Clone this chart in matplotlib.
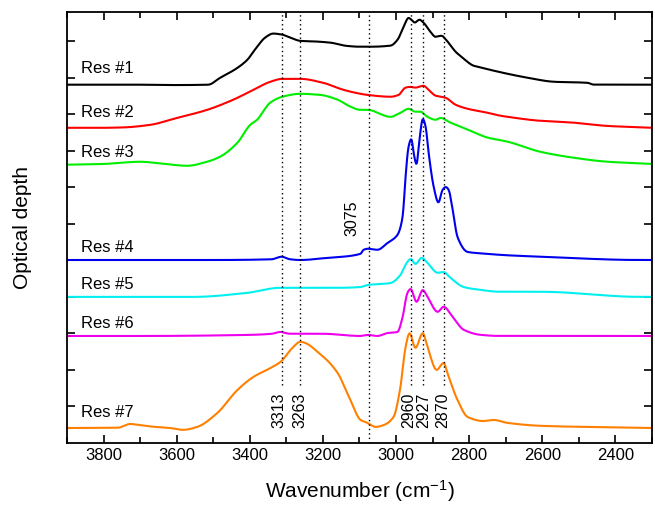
import numpy as np
import matplotlib
matplotlib.use('Agg')
import matplotlib.pyplot as plt
from matplotlib.ticker import MultipleLocator

plt.rcParams['font.family'] = ['Liberation Sans', 'DejaVu Sans']
plt.rcParams['mathtext.default'] = 'regular'

# spectra: wavenumber (cm-1) and offset optical depth (arb.)
wn1 = [3900, 3700, 3600, 3514, 3481, 3434, 3407, 3380, 3358, 3336, 3311, 3289, 3262, 3215, 3179,
       3133, 3100, 3070, 3015, 2996, 2979, 2966, 2958, 2949, 2936, 2925, 2906, 2892, 2876, 2859,
       2837, 2815, 2788, 2768, 2714, 2640, 2568, 2475, 2459, 2385, 2300]
od1 = [9.81, 9.81, 9.80, 9.81, 10.0, 10.27, 10.49, 10.85, 11.10, 11.21, 11.18, 11.10, 11.01, 10.99, 10.96,
       10.87, 10.85, 10.85, 10.88, 11.04, 11.40, 11.64, 11.59, 11.51, 11.59, 11.51, 11.26, 11.12, 11.15, 10.99,
       10.71, 10.52, 10.33, 10.28, 10.15, 10.0, 9.89, 9.86, 9.81, 9.81, 9.81]

wn2 = [3900, 3800, 3747, 3673, 3599, 3517, 3445, 3390, 3344, 3311, 3262, 3199, 3144, 3097, 3078,
       3015, 2993, 2974, 2960, 2947, 2925, 2911, 2892, 2864, 2837, 2804, 2749, 2714, 2695, 2604,
       2514, 2421, 2300]
od2 = [8.63, 8.63, 8.64, 8.71, 8.90, 9.12, 9.40, 9.67, 9.89, 9.97, 9.97, 9.86, 9.67, 9.56, 9.53,
       9.48, 9.53, 9.73, 9.75, 9.73, 9.78, 9.67, 9.51, 9.45, 9.26, 9.15, 9.04, 8.96, 8.93, 8.82,
       8.77, 8.68, 8.63]

wn3 = [3900, 3800, 3700, 3640, 3571, 3517, 3481, 3434, 3399, 3380, 3344, 3311, 3262, 3207, 3160,
       3125, 3097, 3078, 3015, 2988, 2966, 2947, 2933, 2914, 2892, 2878, 2851, 2804, 2749, 2695,
       2604, 2514, 2421, 2300]
od3 = [7.62, 7.64, 7.70, 7.65, 7.59, 7.70, 7.84, 8.22, 8.71, 8.85, 9.32, 9.48, 9.56, 9.53, 9.40,
       9.21, 9.12, 9.12, 8.93, 9.04, 9.15, 9.07, 9.07, 8.93, 8.85, 8.90, 8.77, 8.58, 8.36, 8.25,
       7.97, 7.81, 7.70, 7.64]

wn4 = [3900, 3700, 3500, 3340, 3313, 3290, 3262, 3188, 3097, 3089, 3075, 3051, 3023, 2996, 2982,
       2974, 2966, 2958, 2952, 2944, 2936, 2927, 2919, 2911, 2897, 2884, 2873, 2864, 2856, 2845,
       2832, 2804, 2749, 2714, 2604, 2330, 2300]
od4 = [5.01, 5.01, 5.01, 5.03, 5.10, 5.03, 5.01, 5.07, 5.18, 5.29, 5.32, 5.29, 5.48, 5.70, 6.19,
       7.29, 8.11, 8.33, 7.95, 7.62, 8.30, 8.88, 8.66, 7.95, 7.01, 6.58, 6.93, 7.01, 6.93, 6.38,
       5.64, 5.23, 5.18, 5.15, 5.10, 5.01, 5.01]

wn5 = [3900, 3700, 3555, 3407, 3316, 3262, 3152, 3097, 3075, 3015, 2988, 2969, 2960, 2947, 2930,
       2914, 2886, 2870, 2851, 2815, 2768, 2714, 2604, 2330, 2300]
od5 = [4.00, 4.00, 4.00, 4.11, 4.25, 4.25, 4.25, 4.27, 4.33, 4.38, 4.60, 4.96, 5.04, 4.90, 5.07,
       4.93, 4.66, 4.68, 4.52, 4.27, 4.19, 4.14, 4.14, 4.00, 4.00]

wn6 = [3900, 3700, 3400, 3340, 3316, 3290, 3262, 3200, 3097, 3075, 3051, 3023, 2996, 2982, 2969,
       2960, 2944, 2927, 2914, 2886, 2870, 2845, 2815, 2768, 2714, 2300]
od6 = [2.93, 2.93, 2.96, 2.99, 3.04, 2.99, 2.99, 2.99, 2.93, 2.96, 2.93, 3.01, 3.04, 3.45, 4.11,
       4.22, 3.86, 4.19, 4.00, 3.59, 3.73, 3.45, 3.10, 2.96, 2.93, 2.93]

wn7 = [3900, 3760, 3727, 3700, 3660, 3618, 3582, 3544, 3489, 3434, 3390, 3344, 3316, 3281, 3262,
       3199, 3160, 3125, 3097, 3078, 3056, 3034, 3007, 2988, 2974, 2963, 2947, 2927, 2914,
       2889, 2870, 2856, 2832, 2804, 2760, 2733, 2695, 2604, 2300]
od7 = [0.41, 0.42, 0.52, 0.49, 0.44, 0.41, 0.36, 0.44, 0.82, 1.45, 1.81, 2.05, 2.22, 2.63, 2.77,
       2.36, 1.92, 1.18, 0.63, 0.55, 0.44, 0.49, 0.71, 1.53, 2.63, 3.01, 2.60, 3.01, 2.63,
       2.00, 2.19, 1.81, 1.18, 0.71, 0.60, 0.63, 0.55, 0.47, 0.41]

nomes = ['Res #1', 'Res #2', 'Res #3', 'Res #4', 'Res #5', 'Res #6', 'Res #7']
cores = ['black', '#ff0000', '#00ee00', '#0000ee', '#00f0f0', '#ee00ee', '#ff8000']
label_y = [10.14, 8.93, 7.84, 5.23, 4.22, 3.15, 0.71]

picos = [3313, 3263, 2960, 2927, 2870]
pico_3075 = 3075

espectros = [(wn1, od1), (wn2, od2), (wn3, od3), (wn4, od4), (wn5, od5), (wn6, od6), (wn7, od7)]


def pchip(x, y, xn):
    # interpolação cúbica monótona (Fritsch-Carlson), só pra ligar os pontos lidos
    x = np.asarray(x, float); y = np.asarray(y, float)
    h = np.diff(x); delta = np.diff(y) / h
    d = np.zeros_like(y)
    for k in range(1, len(x) - 1):
        if delta[k - 1] * delta[k] > 0:
            w1 = 2 * h[k] + h[k - 1]; w2 = h[k] + 2 * h[k - 1]
            d[k] = (w1 + w2) / (w1 / delta[k - 1] + w2 / delta[k])
    d[0] = delta[0]; d[-1] = delta[-1]
    i = np.clip(np.searchsorted(x, xn) - 1, 0, len(x) - 2)
    t = (xn - x[i]) / h[i]
    h00 = 2*t**3 - 3*t**2 + 1; h10 = t**3 - 2*t**2 + t
    h01 = -2*t**3 + 3*t**2; h11 = t**3 - t**2
    return h00*y[i] + h10*h[i]*d[i] + h01*y[i+1] + h11*h[i]*d[i+1]


fig = plt.figure(figsize=(6.55, 5.09), dpi=100)
ax = fig.add_axes([0.1023, 0.1297, 0.8931, 0.8467])

grade = np.arange(2300, 3900.5, 1.0)
janela = np.ones(5) / 5
for (w, o), cor in zip(espectros, cores):
    y = pchip(w[::-1], o[::-1], grade)
    ys = np.convolve(np.pad(y, 2, mode='edge'), janela, mode='valid')
    ax.plot(grade, ys, color=cor, lw=1.5)

for nome, yl in zip(nomes, label_y):
    ax.text(3862, yl, nome, fontsize=12, ha='left', va='baseline')

# linhas pontilhadas das bandas
desloc = {3313: 6, 3263: 0, 2960: 5, 2927: -4, 2870: 3}
for p in picos:
    ax.plot([p, p], [1.59, 12], color='black', lw=1, linestyle=(0, (1, 2.2)))
    ax.text(p + desloc[p], 0.9, str(p), rotation=90, fontsize=11.5, ha='center', va='center')
ax.plot([pico_3075, pico_3075], [0, 12], color='black', lw=1, linestyle=(0, (1, 2.2)))
ax.text(3120, 6.16, str(pico_3075), rotation=90, fontsize=11.5, ha='center', va='center')

ax.set_xlim(3900, 2300)
ax.set_ylim(0, 11.8)
ax.xaxis.set_major_locator(MultipleLocator(200))
ax.xaxis.set_minor_locator(MultipleLocator(100))
ax.set_yticks(np.arange(1, 12))
ax.set_yticklabels([])
ax.tick_params(which='both', direction='in', top=True, right=True, labelsize=12, width=1.2)
ax.tick_params(which='major', length=6)
ax.tick_params(which='minor', length=4)
for s in ax.spines.values():
    s.set_linewidth(1.3)

ax.set_xlabel('Wavenumber (cm$^{-1}$)', fontsize=15, labelpad=11)
ax.set_ylabel('Optical depth', fontsize=15, labelpad=22)

fig.savefig('out.png', dpi=100)
